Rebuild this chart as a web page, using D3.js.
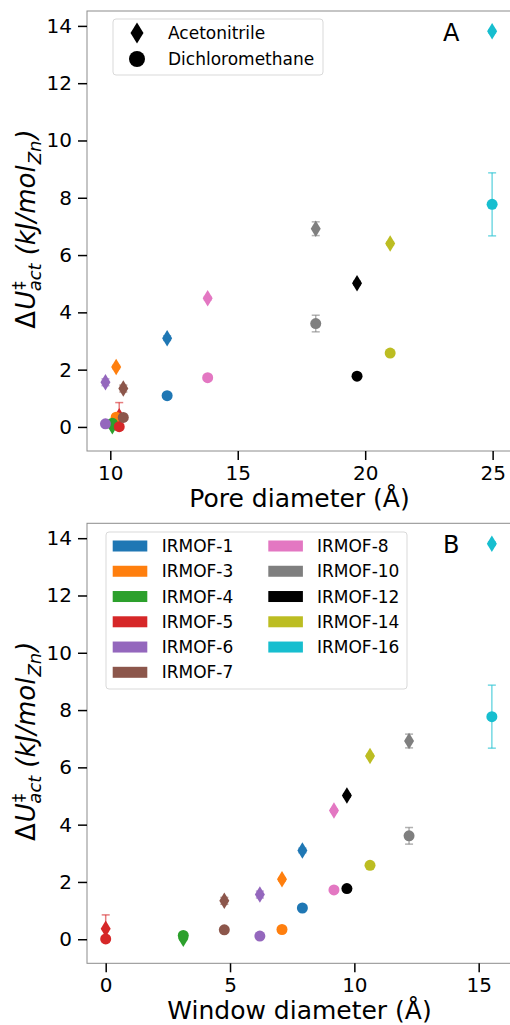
<!DOCTYPE html>
<html>
<head>
<meta charset="utf-8">
<script src="https://cdn.jsdelivr.net/npm/d3@7"></script>
<style>
  body { margin: 0; background: #fff; }
  svg { display: block; font-family: "DejaVu Sans", sans-serif; }
</style>
</head>
<body>
<svg id="chart" width="510" height="1025"></svg>
<script>
// MOF names and colours (matplotlib tab10 + black)
var mofs = ["IRMOF-1", "IRMOF-3", "IRMOF-4", "IRMOF-5", "IRMOF-6", "IRMOF-7",
            "IRMOF-8", "IRMOF-10", "IRMOF-12", "IRMOF-14", "IRMOF-16"];
var colors = ["#1f77b4", "#ff7f0e", "#2ca02c", "#d62728", "#9467bd", "#8c564b",
              "#e377c2", "#7f7f7f", "#000000", "#bcbd22", "#17becf"];

// geometry (Å)
var poreDiameter   = [12.23, 10.23, 10.08, 10.35, 9.81, 10.51, 13.82, 18.06, 19.68, 20.98, 24.98];
var windowDiameter = [7.91, 7.09, 3.12, 0.0, 6.20, 4.77, 9.18, 12.20, 9.70, 10.63, 15.53];

// activation energies (kJ/mol_Zn)
var acnValue = [3.10, 2.09, 0.02, 0.37, 1.56, 1.34, 4.49, 6.92, 5.02, 6.40, 13.81];
var acnError = [0.08, 0.06, 0.05, 0.48, 0.12, 0.12, 0.06, 0.24, 0.06, 0.06, 0.06];
var dcmValue = [1.09, 0.34, 0.13, 0.01, 0.11, 0.33, 1.72, 3.61, 1.77, 2.58, 7.77];
var dcmError = [0.04, 0.04, 0.04, 0.04, 0.04, 0.04, 0.04, 0.29, 0.04, 0.04, 1.10];

var solvents = ["Acetonitrile", "Dichloromethane"];
var yTicks = [0, 2, 4, 6, 8, 10, 12, 14];
var xTicksA = [10, 15, 20, 25];
var xTicksB = [0, 5, 10, 15];

var svg = d3.select("#chart");

var diamond = function(w, h) {
  return "M0," + (-h / 2) + "L" + (w / 2) + ",0L0," + (h / 2) + "L" + (-w / 2) + ",0Z";
};

function drawPanel(opt) {
  var x = d3.scaleLinear().domain(opt.xDomain).range([87, 512]);
  var y = d3.scaleLinear().domain([-0.84, 14.52]).range([opt.bottom, opt.top]);
  var g = svg.append("g");

  // frame
  g.append("rect")
    .attr("x", 87).attr("y", opt.top)
    .attr("width", 425).attr("height", opt.bottom - opt.top)
    .attr("fill", "none").attr("stroke", "#8c8c8c").attr("stroke-width", 1);

  // axes
  var yAxis = d3.axisLeft(y).tickValues(yTicks).tickSize(9).tickPadding(6);
  var gy = g.append("g").attr("transform", "translate(87,0)").call(yAxis);
  var xAxis = d3.axisBottom(x).tickValues(opt.xTicks).tickSize(9).tickPadding(6);
  var gx = g.append("g").attr("transform", "translate(0," + opt.bottom + ")").call(xAxis);
  [gx, gy].forEach(function(a) {
    a.select(".domain").remove();
    a.selectAll(".tick line").attr("stroke", "#000").attr("stroke-width", 1.5);
    a.selectAll(".tick text").attr("fill", "#000")
      .style("font-size", "20px").style("font-family", "DejaVu Sans");
  });

  // points: acetonitrile diamonds first, then dichloromethane circles
  var series = [
    {vals: acnValue, errs: acnError, shape: "d"},
    {vals: dcmValue, errs: dcmError, shape: "o"}
  ];
  series.forEach(function(s) {
    var pts = mofs.map(function(m, i) {
      return {x: opt.xVals[i], y: s.vals[i], e: s.errs[i], c: colors[i]};
    });
    var pg = g.selectAll(null).data(pts).enter().append("g");
    pg.append("line")
      .attr("x1", function(d) { return x(d.x); }).attr("x2", function(d) { return x(d.x); })
      .attr("y1", function(d) { return y(d.y - d.e); }).attr("y2", function(d) { return y(d.y + d.e); })
      .attr("stroke", function(d) { return d.c; }).attr("stroke-opacity", 0.6).attr("stroke-width", 1.5);
    [-1, 1].forEach(function(sgn) {
      pg.append("line")
        .attr("x1", function(d) { return x(d.x) - 4; }).attr("x2", function(d) { return x(d.x) + 4; })
        .attr("y1", function(d) { return y(d.y + sgn * d.e); }).attr("y2", function(d) { return y(d.y + sgn * d.e); })
        .attr("stroke", function(d) { return d.c; }).attr("stroke-opacity", 0.6).attr("stroke-width", 1.5);
    });
    if (s.shape === "d") {
      pg.append("path")
        .attr("d", diamond(10, 16.5))
        .attr("transform", function(d) { return "translate(" + x(d.x) + "," + y(d.y) + ")"; })
        .attr("fill", function(d) { return d.c; });
    } else {
      pg.append("circle")
        .attr("cx", function(d) { return x(d.x); }).attr("cy", function(d) { return y(d.y); })
        .attr("r", 5.5).attr("fill", function(d) { return d.c; });
    }
  });

  // panel letter
  g.append("text").attr("x", 443).attr("y", opt.top + 30)
    .style("font-size", "24px").text(opt.letter);

  // x label
  g.append("text").attr("x", 299.5).attr("y", opt.bottom + 56)
    .attr("text-anchor", "middle").style("font-size", "25px").text(opt.xLabel);

  // y label (mathtext style)
  var yl = g.append("text")
    .attr("transform", "translate(35," + ((opt.top + opt.bottom) / 2 - 2) + ") rotate(-90)")
    .attr("text-anchor", "middle").style("font-size", "26px");
  yl.append("tspan").text("Δ");
  yl.append("tspan").attr("dx", 1).style("font-style", "italic").text("U");
  yl.append("tspan").attr("dx", 1).attr("dy", -10).style("font-size", "17px").text("‡");
  yl.append("tspan").attr("dx", -10).attr("dy", 16).style("font-size", "18px").style("font-style", "italic").text("act");
  yl.append("tspan").attr("dx", 8).attr("dy", -6).style("font-style", "italic").text("(kJ/mol");
  yl.append("tspan").attr("dx", 1).attr("dy", 6).style("font-size", "18px").style("font-style", "italic").text("Zn");
  yl.append("tspan").attr("dx", 1).attr("dy", -6).style("font-style", "italic").text(")");

  return g;
}

var gA = drawPanel({
  top: 11, bottom: 451, xDomain: [9.086, 25.76], xTicks: xTicksA,
  xVals: poreDiameter, letter: "A", xLabel: "Pore diameter (Å)"
});
var gB = drawPanel({
  top: 523.3, bottom: 963.3, xDomain: [-0.752, 16.34], xTicks: xTicksB,
  xVals: windowDiameter, letter: "B", xLabel: "Window diameter (Å)"
});

// legend A: solvents
var legA = gA.append("g");
legA.append("rect").attr("x", 113).attr("y", 19).attr("width", 210).attr("height", 56)
  .attr("rx", 3).attr("fill", "#fff").attr("fill-opacity", 0.8)
  .attr("stroke", "#d9d9d9");
solvents.forEach(function(s, i) {
  var cy = 33 + i * 26;
  if (i === 0) {
    legA.append("path").attr("d", diamond(13, 21)).attr("transform", "translate(137," + cy + ")");
  } else {
    legA.append("circle").attr("cx", 137).attr("cy", cy).attr("r", 8);
  }
  legA.append("text").attr("x", 168).attr("y", cy + 6).style("font-size", "17px").text(s);
});

// legend B: MOFs
var legB = gB.append("g");
legB.append("rect").attr("x", 106).attr("y", 532).attr("width", 301).attr("height", 157)
  .attr("rx", 3).attr("fill", "#fff").attr("fill-opacity", 0.8)
  .attr("stroke", "#d9d9d9");
mofs.forEach(function(m, i) {
  var col = i < 6 ? 0 : 1;
  var row = i < 6 ? i : i - 6;
  var cy = 546 + row * 25.26;
  var px = col === 0 ? 112.7 : 268.3;
  legB.append("rect").attr("x", px).attr("y", cy - 5.5).attr("width", 34.6).attr("height", 11)
    .attr("fill", colors[i]);
  legB.append("text").attr("x", col === 0 ? 161.7 : 317).attr("y", cy + 6)
    .style("font-size", "17px").text(m);
});
</script>
</body>
</html>
